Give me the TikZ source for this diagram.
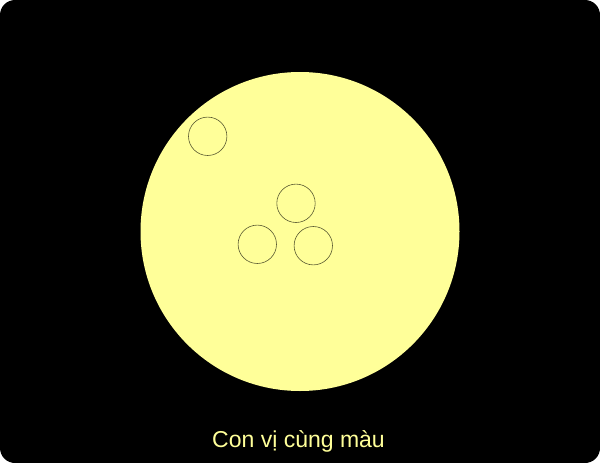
\documentclass[tikz,border=0pt]{standalone}
\usepackage{fontspec}
\setmainfont{Liberation Sans}
\usepackage{xcolor}
\definecolor{bong}{HTML}{FFFF99}
\definecolor{vien}{HTML}{5A5A32}

\begin{document}
\begin{tikzpicture}[x=1pt, y=-1pt]
    \useasboundingbox (0,0) rectangle (600,463);
    \fill [white] (0,0) rectangle (600,463);
    \fill [black, rounded corners=15pt] (0,0) rectangle (600,463);
    \fill [bong] (300,231.5) circle (159.5);
    \draw [vien, line width=0.6pt] (207.7,136.3) circle (19.2);
    \draw [vien, line width=0.6pt] (296,203.3) circle (19.2);
    \draw [vien, line width=0.6pt] (257.3,244.3) circle (19.2);
    \draw [vien, line width=0.6pt] (313.3,245.7) circle (19.2);
    \node [bong, font=\fontsize{23}{27}\selectfont, anchor=base] (nhan) at (298.5,447) {Con vị cùng màu};
  \end{tikzpicture}
\end{document}
